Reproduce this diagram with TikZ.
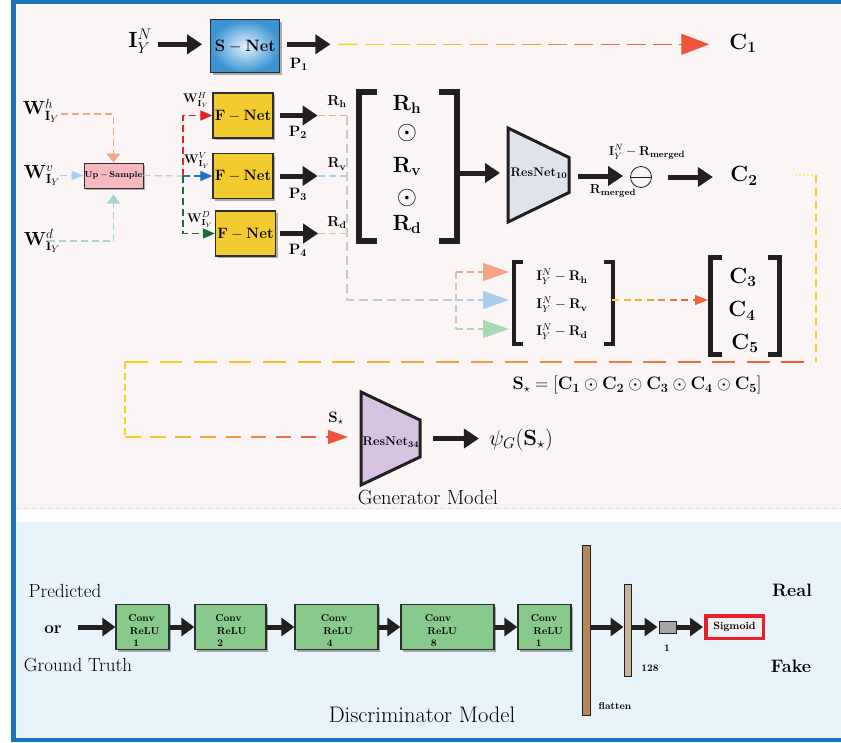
\RequirePackage{fix-cm}
\documentclass[tikz,border=0pt]{standalone}
\usepackage{amsmath,amssymb}
\usetikzlibrary{arrows.meta,calc,shadows}
\definecolor{frameC}{HTML}{1B74BC}
\definecolor{genbg}{HTML}{FBF5F5}
\definecolor{discbg}{HTML}{E8F3FA}
\definecolor{arrK}{HTML}{231F20}
\definecolor{yelC}{HTML}{F8D41E}
\definecolor{orgC}{HTML}{F6A03A}
\definecolor{redC}{HTML}{EE553A}
\definecolor{salC}{HTML}{F5A68A}
\definecolor{lblC}{HTML}{A9CFEE}
\definecolor{tealC}{HTML}{A6D6CF}
\definecolor{fred}{HTML}{E8202A}
\definecolor{fblue}{HTML}{1C72C4}
\definecolor{fgreen}{HTML}{1B6E3A}
\definecolor{lgrn}{HTML}{AAD8B5}
\definecolor{grayD}{HTML}{C9C9C9}
\definecolor{fnetC}{HTML}{F2CC2E}
\definecolor{upC}{HTML}{F7B8C0}
\definecolor{convC}{HTML}{88CA8C}
\definecolor{rtenC}{HTML}{E1E3EC}
\definecolor{rtfC}{HTML}{D5C3E1}
\definecolor{flatC}{HTML}{B48A5C}
\definecolor{bbarC}{HTML}{C7B29C}
\definecolor{oneC}{HTML}{A7A7AA}
\definecolor{sigC}{HTML}{E6202A}
\definecolor{sigF}{HTML}{F3F0F3}
\definecolor{boxK}{HTML}{2E2E2E}
\definecolor{snIn}{HTML}{E6F3FB}
\definecolor{snOut}{HTML}{3A93D2}

% gradient dashed straight line: [opts]{A}{B}{c1}{c2}{c3}{N dashes}{on-fraction}
\newcommand{\gradline}[8][]{%
  \foreach \gi in {1,...,#7}{%
    \pgfmathsetmacro{\gta}{(\gi-1)/#7}%
    \pgfmathsetmacro{\gtb}{(\gi-1+#8)/#7}%
    \pgfmathtruncatemacro{\gpc}{200*(\gi-0.5)/#7}%
    \ifnum\gpc<100\relax
      \edef\gcol{#5!\gpc!#4}%
    \else
      \pgfmathtruncatemacro{\gpd}{\gpc-100}%
      \edef\gcol{#6!\gpd!#5}%
    \fi
    \draw[#1,color=\gcol] ($(#2)!\gta!(#3)$) -- ($(#2)!\gtb!(#3)$);
  }}

\tikzset{
  fs/.style={font=\fontsize{#1}{#1}\selectfont},
  bigarr/.style={draw=arrK, line width=5pt, -{Triangle[length=15pt,width=19pt]}},
  smarr/.style={draw=arrK, line width=5pt, -{Triangle[length=13pt,width=18pt]}},
  dsh/.style={line width=1.2pt, dash pattern=on 7pt off 4pt},
  shd/.style={drop shadow={shadow xshift=2pt,shadow yshift=-2pt,opacity=0.3,fill=black}},
  fnet/.style={draw=boxK, line width=1.3pt, fill=fnetC, minimum width=60pt, minimum height=45pt, inner sep=0pt, shd},
  convbox/.style={draw=boxK, line width=1.3pt, fill=convC, minimum height=45pt, inner sep=0pt, shd},
  convtxt/.style={font=\fontsize{10}{12.5}\selectfont\bfseries, align=left, inner sep=0pt},
  trapz/.style={draw=arrK, line width=3pt, line join=miter},
  txt/.style={inner sep=0pt},
  holder/.style={inner sep=0pt, outer sep=0pt},
}

\begin{document}
\begin{tikzpicture}[x=1pt, y=-1pt]
\useasboundingbox (0,0) rectangle (841,742);
% ---------- panels
\fill[white] (0,0) rectangle (841,742);
\fill[frameC] (11,0) rectangle (841,742);
\fill[genbg] (15.5,3.5) rectangle (841,508);
\fill[white] (15.5,508) rectangle (841,522);
\fill[discbg] (15.5,522) rectangle (841,737.5);
\draw[gray!30, densely dotted, line width=0.6pt] (15.5,508) -- (841,508);

% ---------- top row
\node[txt, fs=22] (inN) at (140,41.5) {$\mathbf{I}_Y^N$};
\node[draw=boxK, line width=1.3pt, inner color=snIn, outer color=snOut, minimum width=69pt, minimum height=53pt, shd, fs=16.5] (snet) at (245.3,46.3) {$\mathbf{S-Net}$};
\draw[bigarr] ($(inN.east |- snet.west)+(6,-2)$) -- ($(snet.west)+(-8,-2)$);
\draw[bigarr] ($(snet.east)+(7,-2)$) -- ($(snet.east)+(50,-2)$);
\node[txt, fs=15] (P1) at (299,64) {$\mathbf{P_1}$};
\node[txt, fs=22] (C1) at (743,43.5) {$\mathbf{C_1}$};
\coordinate (c1s) at ($(snet.east)+(58,-2)$);
\coordinate (c1e) at ($(c1s -| C1.west)+(-50,0)$);
\gradline[line width=1.5pt]{c1s}{c1e}{yelC}{orgC}{redC}{13}{0.72}
\draw[line width=1.5pt, redC, -{Triangle[length=28pt,width=21pt]}] (c1e) -- ($(c1s -| C1.west)+(-20,0)$);

% ---------- wavelet inputs
\node[txt, fs=19] (Wh) at (41,110.5) {$\mathbf{W}^h_{\mathbf{I}_Y}$};
\node[txt, fs=19] (Wv) at (42,175.5) {$\mathbf{W}^v_{\mathbf{I}_Y}$};
\node[txt, fs=19] (Wd) at (42,241) {$\mathbf{W}^d_{\mathbf{I}_Y}$};
\node[draw=boxK, line width=1pt, fill=upC, minimum width=59pt, minimum height=25pt, inner sep=0pt, shd, fs=8.5] (up) at (113.5,175.5) {$\mathbf{Up-Sample}$};
\draw[dsh, salC, -{Triangle[length=9pt,width=14pt]}] ($(Wh.east)+(2,3.5)$) -| (up.north);
\draw[dsh, lblC, -{Triangle[length=12pt,width=9pt]}] (Wv.east |- up.west) -- (up.west);
\draw[dsh, tealC, -{Triangle[length=9pt,width=13pt]}] ($(Wd.west)+(24,0)$) -| ($(up.south)+(0,6)$);

% ---------- F-Nets
\coordinate (fork) at (183,176);
\node[fnet, fs=15] (fn1) at (243,115.5) {$\mathbf{F-Net}$};
\node[fnet, fs=15] (fn2) at (243,176) {$\mathbf{F-Net}$};
\node[fnet, fs=15] (fn3) at (245.5,233.5) {$\mathbf{F-Net}$};
\draw[dsh, grayD] (up.east) -- (fork);
\draw[dsh, fred, -{Triangle[length=12pt,width=10pt]}] (fork) |- (fn1.west);
\draw[dsh, fblue, -{Triangle[length=12pt,width=10pt]}] (fork) -- (fn2.west);
\draw[dsh, fgreen, -{Triangle[length=12pt,width=10pt]}] (fork) |- (fn3.west);
\node[txt, fs=12.5] (WH) at (196,100) {$\mathbf{W}^H_{\mathbf{I}_Y}$};
\node[txt, fs=12.5] (WV) at (197,160.5) {$\mathbf{W}^V_{\mathbf{I}_Y}$};
\node[txt, fs=12.5] (WD) at (200,219.5) {$\mathbf{W}^D_{\mathbf{I}_Y}$};

\coordinate (t1) at ($(fn1.east)+(44,0)$);
\coordinate (t2) at ($(fn2.east)+(44,0)$);
\coordinate (t3) at ($(fn3.east)+(42,0)$);
\draw[bigarr] ($(fn1.east)+(6,0)$) -- (t1);
\draw[bigarr] ($(fn2.east)+(6,0)$) -- (t2);
\draw[bigarr] ($(fn3.east)+(4,0)$) -- (t3);
\node[txt, fs=15] (P2) at (298,132.5) {$\mathbf{P_2}$};
\node[txt, fs=15] (P3) at (298,194.5) {$\mathbf{P_3}$};
\node[txt, fs=15] (P4) at (298,250.5) {$\mathbf{P_4}$};
\node[txt, fs=14.5] (Rh) at (337,101.5) {$\mathbf{R_h}$};
\node[txt, fs=14.5] (Rv) at (337,164) {$\mathbf{R_v}$};
\node[txt, fs=14.5] (Rd) at (337,222.5) {$\mathbf{R_d}$};

\coordinate (g1) at (347,115.5);
\coordinate (g2) at (347,176);
\coordinate (g3) at (347,233.5);
\coordinate (gb) at (347,300);
\coordinate (fk2) at (456,300);
\coordinate (fa) at (456,272);
\coordinate (fc) at (456,329);
\draw[dsh, salC] (t1) -- (g1);
\draw[dsh, lblC] (t2) -- (g2);
\draw[dsh, lgrn] (t3) -- (g3);
\draw[line width=1.2pt, dash pattern=on 9pt off 5pt, grayD] (g1) -- (gb) -- (fk2);
\draw[dsh, grayD] (fa) -- (fc);

% ---------- I - R bracket
\node[holder, minimum width=103pt, minimum height=86pt] (irb) at (563.5,302.5) {};
\draw[dsh, salC, -{Triangle[length=26pt,width=18pt]}] (fa) -- ($(fa -| irb.west)+(-3,0)$);
\draw[dsh, lblC, -{Triangle[length=26pt,width=18pt]}] (fk2) -- ($(fk2 -| irb.west)+(-3,0)$);
\draw[dsh, lgrn, -{Triangle[length=26pt,width=18pt]}] (fc) -- ($(fc -| irb.west)+(-3,0)$);
\draw[line width=4pt, arrK] ($(irb.north west)+(11,2)$) -- ($(irb.north west)+(2,2)$) -- ($(irb.south west)+(2,-2)$) -- ($(irb.south west)+(11,-2)$);
\draw[line width=4pt, arrK] ($(irb.north east)+(-11,2)$) -- ($(irb.north east)+(-2,2)$) -- ($(irb.south east)+(-2,-2)$) -- ($(irb.south east)+(-11,-2)$);
\node[txt, fs=14] (ir1) at (562,277) {$\mathbf{I}_Y^N-\mathbf{R_h}$};
\node[txt, fs=14] (ir2) at (562,305) {$\mathbf{I}_Y^N-\mathbf{R_v}$};
\node[txt, fs=14] (ir3) at (562,332) {$\mathbf{I}_Y^N-\mathbf{R_d}$};

% ---------- C bracket
\node[holder, minimum width=74pt, minimum height=102pt] (cb) at (745,306) {};
\draw[line width=5pt, arrK] ($(cb.north west)+(14,2.5)$) -- ($(cb.north west)+(2.5,2.5)$) -- ($(cb.south west)+(2.5,-2.5)$) -- ($(cb.south west)+(14,-2.5)$);
\draw[line width=5pt, arrK] ($(cb.north east)+(-14,2.5)$) -- ($(cb.north east)+(-2.5,2.5)$) -- ($(cb.south east)+(-2.5,-2.5)$) -- ($(cb.south east)+(-14,-2.5)$);
\node[txt, fs=22] (C3) at (743,277.5) {$\mathbf{C_3}$};
\node[txt, fs=22] (C4) at (742,311) {$\mathbf{C_4}$};
\node[txt, fs=22] (C5) at (745,343.5) {$\mathbf{C_5}$};
\coordinate (ic0) at ($(irb.east)+(-3,-2.5)$);
\coordinate (ic1) at ($(cb.west)+(-15,-6)$);
\gradline[line width=1.3pt]{ic0}{ic1}{yelC}{orgC}{redC}{7}{0.6}
\draw[line width=1.3pt, redC!80!orgC, -{Triangle[length=13pt,width=10pt]}] (ic1) -- ($(cb.west)+(0,-6)$);

% ---------- big bracket
\node[holder, minimum width=104pt, minimum height=155pt] (rbr) at (408,166) {};
\draw[line width=6pt, arrK] ($(rbr.north west)+(21,3)$) -- ($(rbr.north west)+(3,3)$) -- ($(rbr.south west)+(3,-3)$) -- ($(rbr.south west)+(21,-3)$);
\draw[line width=6pt, arrK] ($(rbr.north east)+(-21,3)$) -- ($(rbr.north east)+(-3,3)$) -- ($(rbr.south east)+(-3,-3)$) -- ($(rbr.south east)+(-21,-3)$);
\node[txt, fs=22, anchor=base] (bRh) at (407,110) {$\mathbf{R_h}$};
\node[txt, fs=26] (od1) at (407,133) {$\odot$};
\node[txt, fs=22, anchor=base] (bRv) at (407,172) {$\mathbf{R_v}$};
\node[txt, fs=26] (od2) at (407,198) {$\odot$};
\node[txt, fs=22, anchor=base] (bRd) at (407,230) {$\mathbf{R_d}$};

% ---------- ResNet10
\node[holder, minimum width=61pt, minimum height=94pt] (res10) at (538.5,175) {};
\draw[trapz, fill=rtenC] (res10.north west) -- ($(res10.east)+(0,-17.5)$) -- ($(res10.east)+(0,17.5)$) -- (res10.south west) -- cycle;
\node[txt, fs=12.5] (res10t) at (539,173) {$\mathbf{ResNet_{10}}$};
\draw[bigarr] ($(rbr.east)+(0,7)$) -- ($(res10.west)+(-8,-2)$);
\node[circle, draw=arrK, line width=0.8pt, minimum size=21pt, inner sep=0pt] (minus) at (641,177) {};
\draw[arrK, line width=0.8pt] (minus.west) -- (minus.east);
\draw[bigarr] ($(res10.east)+(9,1)$) -- ($(minus.west)+(-7,-1)$);
\node[txt, fs=13] (Rm) at (613,191) {$\mathbf{R_{merged}}$};
\node[txt, fs=13] (IRm) at (647,152) {$\mathbf{I}_Y^N-\mathbf{R_{merged}}$};
\node[txt, fs=22] (C2) at (744,176) {$\mathbf{C_2}$};
\draw[bigarr] ($(minus.east)+(16,0)$) -- ($(minus.east)+(61,0)$);

% ---------- S_star formula
\node[txt, fs=18] (Sform) at (637,385) {$\mathbf{S}_\star=[\mathbf{C_1}\odot\mathbf{C_2}\odot\mathbf{C_3}\odot\mathbf{C_4}\odot\mathbf{C_5}]$};

% ---------- ResNet34
\node[holder, minimum width=59pt, minimum height=93pt] (res34) at (390.5,438.5) {};
\draw[trapz, fill=rtfC] (res34.north west) -- ($(res34.east)+(0,-18.5)$) -- ($(res34.east)+(0,18.5)$) -- (res34.south west) -- cycle;
\node[txt, fs=12.5] (res34t) at (391,442) {$\mathbf{ResNet_{34}}$};
\node[txt, fs=22] (psi) at (521,440) {$\psi_G(\mathbf{S}_\star)$};
\draw[bigarr] ($(res34.east)+(13,0)$) -- ($(psi.west)+(-10,-1.5)$);
\node[txt, fs=15] (Sl) at (336,418) {$\mathbf{S}_\star$};
\node[txt, fs=20.5] (gm) at (428,497) {Generator Model};

% ---------- loop C2 -> S_star
\coordinate (lp0) at ($(C2.east)+(37,-1)$);
\coordinate (lp1) at (816,175);
\coordinate (lp2) at (816,362);
\coordinate (lp3) at (125,362);
\coordinate (lp4) at (125,437);
\coordinate (lp5) at (326,437);
\draw[line width=1.2pt, yelC!45, dash pattern=on 2pt off 2pt] (lp0) -- (lp1);
\draw[line width=1.5pt, yelC, dash pattern=on 8pt off 5pt] (lp1) -- (lp2);
\gradline[line width=1.5pt]{lp3}{lp2}{yelC}{orgC}{redC}{20}{0.66}
\draw[line width=1.5pt, yelC, dash pattern=on 7pt off 4pt] (lp3) -- (lp4);
\gradline[line width=1.5pt]{lp4}{lp5}{yelC}{orgC}{redC}{8}{0.62}
\draw[line width=1.5pt, redC, -{Triangle[length=20pt,width=14pt]}] (lp5) -- ($(res34.west)+(-13,-1.5)$);

% ---------- Discriminator
\node[txt, fs=19] (pred) at (65,591) {Predicted};
\node[txt, fs=17] (or) at (53,630) {\textbf{or}};
\node[txt, fs=19] (gt) at (78,665) {Ground Truth};
\node[convbox, minimum width=53pt] (cv1) at (142.5,627) {};
\node[convbox, minimum width=71pt] (cv2) at (230.5,627) {};
\node[convbox, minimum width=83pt] (cv3) at (336.5,627) {};
\node[convbox, minimum width=93pt] (cv4) at (447.5,627) {};
\node[convbox, minimum width=53pt] (cv5) at (544.5,627) {};
\node[convtxt] (cv1t) at (144,631) {Conv\\\hspace*{1.5pt}ReLU\\\hspace*{5pt}1};
\node[convtxt] (cv2t) at (231,631) {Conv\\\hspace*{1.5pt}ReLU\\\hspace*{2pt}2};
\node[convtxt] (cv3t) at (337,631) {Conv\\\hspace*{2.5pt}ReLU\\\hspace*{6pt}4};
\node[convtxt] (cv4t) at (441,631) {Conv\\\hspace*{2.5pt}ReLU\\\hspace*{6pt}8};
\node[convtxt] (cv5t) at (547,631) {Conv\\\hspace*{2.5pt}ReLU\\\hspace*{5pt}1};
\draw[smarr] ($(or.east |- cv1.west)+(16,0)$) -- (cv1.west);
\draw[smarr] (cv1.east) -- (cv2.west);
\draw[smarr] (cv2.east) -- (cv3.west);
\draw[smarr] (cv3.east) -- (cv4.west);
\draw[smarr] (cv4.east) -- (cv5.west);
\node[draw=arrK, line width=1pt, fill=flatC, minimum width=8pt, minimum height=170pt, inner sep=0pt] (flat) at (586,630) {};
\node[txt, font=\fontsize{10}{10}\selectfont\bfseries] (flatl) at (615,706) {flatten};
\node[draw=arrK, line width=1pt, fill=bbarC, minimum width=7pt, minimum height=92pt, inner sep=0pt] (bar) at (627.5,630) {};
\node[txt, font=\fontsize{10}{10}\selectfont\bfseries] (barl) at (650,668) {128};
\node[draw=arrK, line width=1pt, fill=oneC, minimum width=17pt, minimum height=12pt, inner sep=0pt] (one) at (667.5,627) {};
\node[txt, font=\fontsize{10}{10}\selectfont\bfseries] (onel) at (667,648) {1};
\node[draw=sigC, line width=3.5pt, fill=sigF, minimum width=57.5pt, minimum height=22.5pt, inner sep=0pt, font=\fontsize{10.5}{10.5}\selectfont\bfseries] (sig) at (734.5,627) {Sigmoid};
\draw[smarr] (flat.east |- cv5.east) -- (bar.west |- cv5.east);
\draw[smarr] (bar.east |- cv5.east) -- ($(one.west)+(-1,0)$);
\draw[smarr] (one.east) -- ($(sig.west)+(-1,0)$);
\node[txt, fs=18] (real) at (792,590) {\textbf{Real}};
\node[txt, fs=18] (fake) at (791,666) {\textbf{Fake}};
\node[txt, fs=22.5] (dm) at (422,715) {Discriminator Model};
\end{tikzpicture}
\end{document}
